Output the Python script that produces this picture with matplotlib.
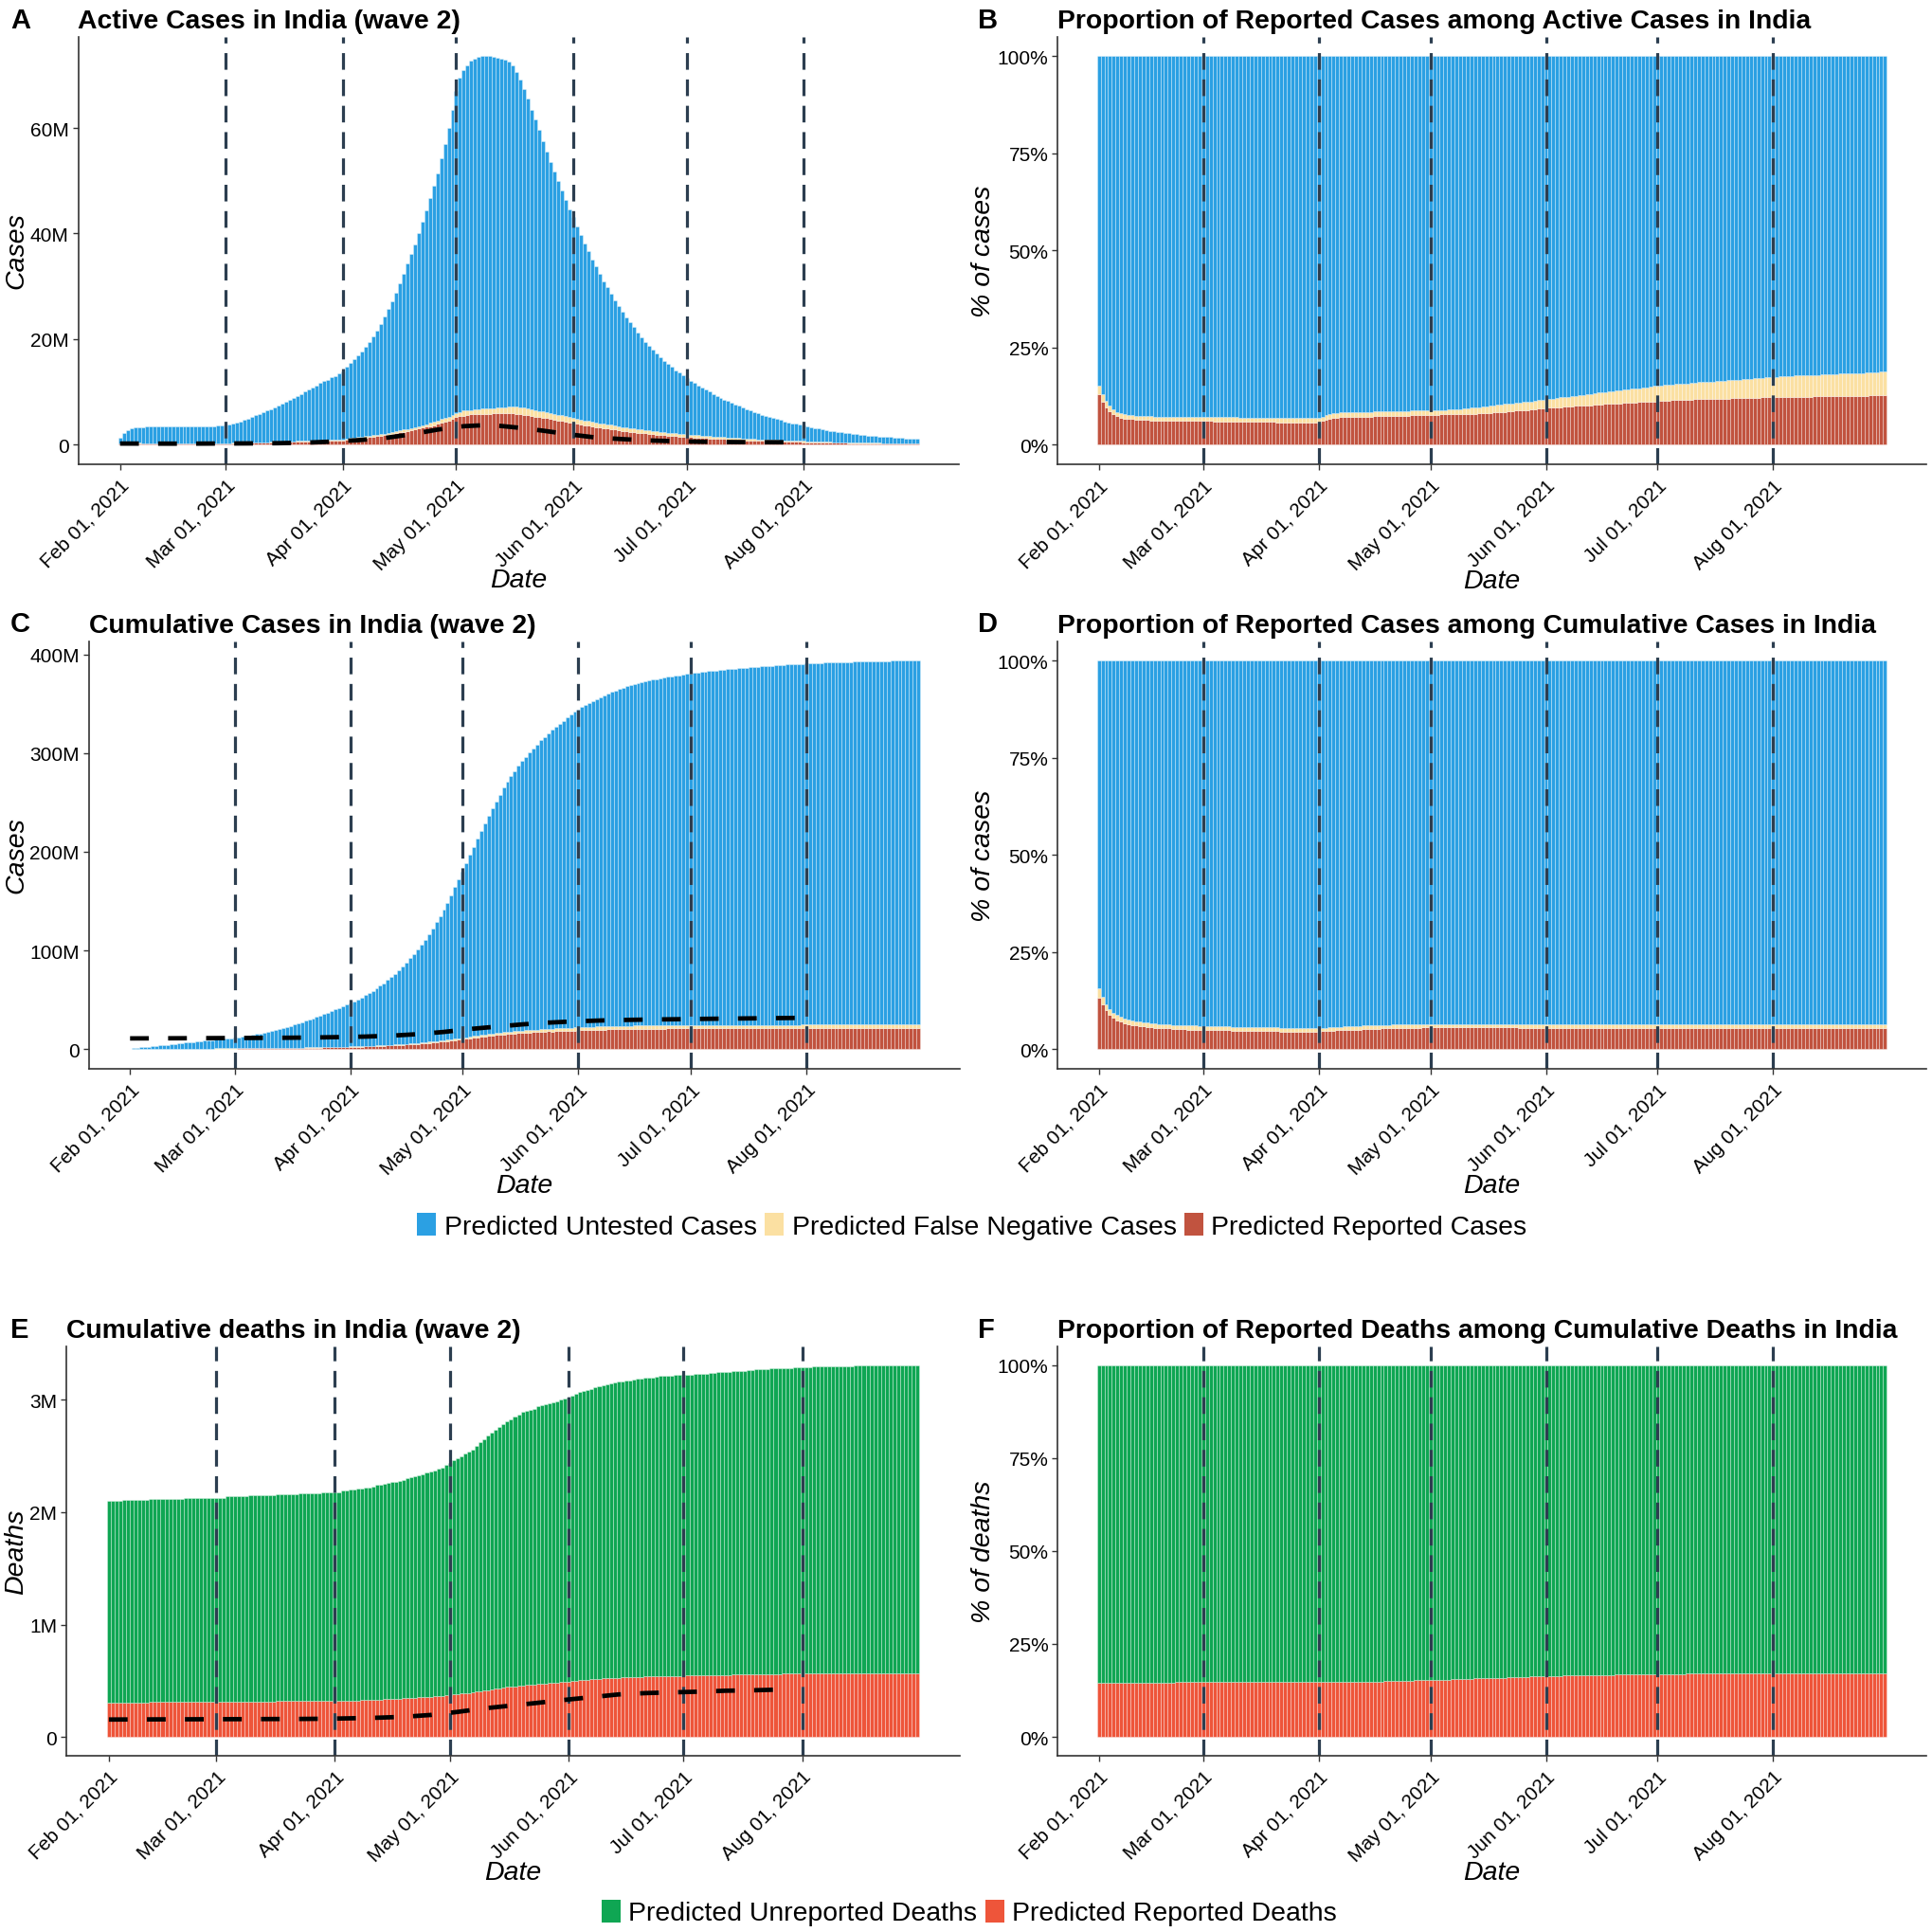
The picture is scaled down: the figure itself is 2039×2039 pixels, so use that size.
import numpy as np
import matplotlib
matplotlib.use("Agg")
import matplotlib.pyplot as plt
import matplotlib.dates as mdates
from matplotlib.patches import Patch
from matplotlib.ticker import FuncFormatter

plt.rcParams["font.family"] = ["Liberation Sans", "DejaVu Sans"]

# daily values, Feb 01 2021 .. Aug 31 2021, one row per month
active_total = [  # millions
    1.2, 2.1, 2.7, 3.0, 3.2, 3.3, 3.3, 3.4, 3.4, 3.4, 3.5, 3.5, 3.5, 3.5, 3.5, 3.5, 3.5, 3.5, 3.5, 3.5,
    3.5, 3.5, 3.5, 3.5, 3.5, 3.5, 3.6, 3.6,
    3.6, 3.7, 3.9, 4.1, 4.3, 4.6, 4.9, 5.2, 5.5, 5.8, 6.1, 6.4, 6.7, 7.0, 7.4, 7.7, 8.1, 8.4, 8.8, 9.2,
    9.6, 10.0, 10.4, 10.8, 11.2, 11.6, 12.0, 12.3, 12.7, 13.0, 13.4,
    13.8, 14.7, 15.4, 16.2, 16.9, 17.7, 18.6, 19.5, 20.5, 21.6, 22.9, 24.3, 25.7, 27.2, 28.8, 30.5, 32.4,
    34.4, 36.2, 38.0, 40.1, 42.2, 44.4, 46.7, 49.1, 51.5, 54.2, 57.0, 60.0, 63.5,
    67.0, 69.5, 71.0, 71.9, 72.8, 73.2, 73.6, 73.7, 73.7, 73.7, 73.5, 73.4, 73.2, 72.9, 72.6, 71.9, 70.7,
    69.2, 67.4, 65.6, 63.5, 61.6, 59.6, 57.5, 55.6, 53.6, 51.8, 49.9, 48.1, 46.4, 44.6,
    43.1, 41.4, 39.8, 38.1, 36.6, 35.1, 33.8, 32.3, 31.0, 29.8, 28.6, 27.4, 26.2, 25.1, 24.1, 23.1, 22.2,
    21.3, 20.4, 19.5, 18.7, 18.0, 17.2, 16.5, 15.9, 15.3, 14.7, 14.1, 13.6, 13.1,
    12.6, 12.1, 11.6, 11.2, 10.8, 10.4, 10.0, 9.6, 9.2, 8.8, 8.5, 8.2, 7.9, 7.6, 7.3, 7.0, 6.7, 6.4, 6.1,
    5.9, 5.6, 5.4, 5.2, 5.0, 4.8, 4.6, 4.4, 4.2, 4.0, 3.9, 3.7,
    3.6, 3.4, 3.3, 3.1, 3.0, 2.9, 2.7, 2.6, 2.5, 2.4, 2.3, 2.2, 2.1, 2.0, 1.9, 1.8, 1.75, 1.7, 1.6,
    1.55, 1.5, 1.45, 1.4, 1.35, 1.3, 1.25, 1.2, 1.15, 1.1, 1.05, 1.0,
]
active_reported_pct = [
    13.0, 11.1, 9.6, 8.7, 7.9, 7.4, 7.0, 6.8, 6.7, 6.6, 6.5, 6.5, 6.4, 6.4, 6.3, 6.3, 6.3, 6.3, 6.3, 6.2,
    6.2, 6.2, 6.2, 6.2, 6.1, 6.1, 6.1, 6.1,
    6.1, 6.1, 6.1, 6.0, 6.0, 6.0, 6.0, 6.0, 6.0, 6.0, 6.0, 5.9, 5.9, 5.9, 5.9, 5.9, 5.9, 5.9, 5.9, 5.9,
    5.8, 5.8, 5.8, 5.8, 5.8, 5.8, 5.8, 5.8, 5.8, 5.8, 5.8,
    5.8, 6.2, 6.5, 6.7, 6.9, 7.0, 7.1, 7.1, 7.2, 7.2, 7.2, 7.3, 7.3, 7.3, 7.3, 7.4, 7.4, 7.4, 7.4, 7.4,
    7.5, 7.5, 7.5, 7.5, 7.5, 7.6, 7.6, 7.6, 7.6, 7.7,
    7.7, 7.7, 7.7, 7.8, 7.8, 7.8, 7.8, 7.9, 7.9, 7.9, 8.0, 8.0, 8.0, 8.1, 8.1, 8.2, 8.2, 8.3, 8.3, 8.4,
    8.5, 8.6, 8.7, 8.8, 8.9, 9.0, 9.0, 9.1, 9.2, 9.3, 9.3,
    9.4, 9.5, 9.5, 9.6, 9.7, 9.8, 9.8, 9.9, 10.0, 10.0, 10.1, 10.2, 10.2, 10.3, 10.4, 10.4, 10.5, 10.5,
    10.6, 10.7, 10.7, 10.8, 10.8, 10.9, 10.9, 11.0, 11.0, 11.1, 11.1, 11.2,
    11.3, 11.3, 11.4, 11.4, 11.5, 11.5, 11.5, 11.6, 11.6, 11.6, 11.7, 11.7, 11.7, 11.8, 11.8, 11.8, 11.9,
    11.9, 11.9, 11.9, 12.0, 12.0, 12.0, 12.0, 12.1, 12.1, 12.1, 12.1, 12.2, 12.2, 12.2,
    12.3, 12.3, 12.3, 12.3, 12.3, 12.4, 12.4, 12.4, 12.4, 12.4, 12.4, 12.5, 12.5, 12.5, 12.5, 12.5, 12.5,
    12.5, 12.6, 12.6, 12.6, 12.6, 12.6, 12.6, 12.6, 12.6, 12.7, 12.7, 12.7, 12.7, 12.7,
]
active_tested_pct = [  # reported + false negative
    15.2, 13.0, 11.3, 10.1, 9.1, 8.5, 8.1, 7.9, 7.7, 7.6, 7.5, 7.5, 7.4, 7.4, 7.4, 7.3, 7.3, 7.3, 7.3, 7.3,
    7.3, 7.2, 7.2, 7.2, 7.2, 7.2, 7.2, 7.2,
    7.2, 7.2, 7.2, 7.1, 7.1, 7.1, 7.1, 7.1, 7.1, 7.1, 7.0, 7.0, 7.0, 7.0, 7.0, 7.0, 7.0, 7.0, 6.9, 6.9,
    6.9, 6.9, 6.9, 6.9, 6.9, 6.9, 6.9, 6.9, 6.9, 6.9, 6.9,
    6.9, 7.3, 7.7, 7.9, 8.1, 8.2, 8.3, 8.3, 8.4, 8.4, 8.4, 8.5, 8.5, 8.5, 8.5, 8.6, 8.6, 8.6, 8.6, 8.6,
    8.7, 8.7, 8.7, 8.7, 8.7, 8.8, 8.8, 8.8, 8.8, 8.9,
    8.9, 8.9, 9.0, 9.0, 9.0, 9.1, 9.1, 9.2, 9.2, 9.3, 9.4, 9.5, 9.6, 9.7, 9.8, 9.9, 10.1, 10.2, 10.3,
    10.4, 10.5, 10.6, 10.7, 10.8, 10.9, 11.0, 11.1, 11.2, 11.4, 11.5, 11.6,
    11.7, 11.8, 11.9, 12.0, 12.2, 12.3, 12.4, 12.5, 12.6, 12.8, 12.9, 13.0, 13.1, 13.2, 13.4, 13.5, 13.6,
    13.7, 13.8, 13.9, 14.1, 14.2, 14.3, 14.4, 14.5, 14.6, 14.7, 14.8, 14.9, 15.1,
    15.2, 15.3, 15.4, 15.5, 15.5, 15.6, 15.7, 15.8, 15.8, 15.9, 16.0, 16.1, 16.1, 16.2, 16.3, 16.3, 16.4,
    16.5, 16.5, 16.6, 16.7, 16.7, 16.8, 16.9, 16.9, 17.0, 17.1, 17.1, 17.2, 17.3, 17.4,
    17.5, 17.5, 17.6, 17.6, 17.7, 17.7, 17.8, 17.8, 17.9, 17.9, 18.0, 18.0, 18.0, 18.1, 18.1, 18.2, 18.2,
    18.2, 18.3, 18.3, 18.4, 18.4, 18.4, 18.5, 18.5, 18.6, 18.6, 18.7, 18.7, 18.8, 18.9,
]

cum_total = [  # millions
    0.4, 0.8, 1.2, 1.6, 2.0, 2.4, 2.8, 3.2, 3.6, 4.0, 4.4, 4.8, 5.2, 5.6, 6.0, 6.4, 6.8, 7.2, 7.6, 8.0,
    8.4, 8.8, 9.2, 9.6, 10.0, 10.3, 10.6, 11.0,
    11.4, 11.9, 12.4, 13.0, 13.6, 14.3, 15.0, 15.8, 16.6, 17.5, 18.4, 19.4, 20.4, 21.4, 22.5, 23.6, 24.8,
    26.0, 27.2, 28.5, 29.8, 31.1, 32.5, 33.9, 35.4, 36.9, 38.4, 40.0, 41.6, 43.2, 44.9,
    46.6, 48.4, 50.3, 52.3, 54.4, 56.6, 58.9, 61.4, 64.0, 66.8, 69.8, 73.0, 76.4, 80.0, 83.8, 87.8, 92.0,
    96.4, 101.0, 105.8, 110.8, 116.0, 122.0, 128.5, 135.0, 141.7, 148.5, 156.0, 164.0, 172.0,
    180.0, 188.5, 197.0, 205.0, 213.0, 221.0, 229.0, 236.5, 244.0, 251.0, 258.0, 265.0, 270.8, 276.4,
    281.8, 287.0, 292.0, 296.5, 300.8, 305.0, 309.0, 313.0, 316.5, 320.0, 323.5, 327.0, 330.0, 333.0,
    336.0, 339.0, 342.0,
    344.5, 346.8, 349.0, 351.1, 353.1, 355.0, 356.9, 358.7, 360.5, 362.2, 363.8, 365.2, 366.5, 367.7,
    368.8, 369.9, 370.9, 371.9, 372.8, 373.7, 374.5, 375.3, 376.0, 376.7, 377.4, 378.0, 378.6, 379.2,
    379.8, 380.3,
    380.8, 381.3, 381.8, 382.3, 382.8, 383.2, 383.6, 384.0, 384.4, 384.8, 385.2, 385.5, 385.8, 386.1,
    386.4, 386.7, 387.0, 387.3, 387.6, 387.9, 388.2, 388.5, 388.8, 389.1, 389.4, 389.6, 389.8, 390.0,
    390.2, 390.4, 390.6,
    390.8, 391.0, 391.2, 391.4, 391.6, 391.8, 392.0, 392.1, 392.2, 392.3, 392.4, 392.5, 392.6, 392.7,
    392.8, 392.9, 393.0, 393.1, 393.2, 393.3, 393.4, 393.5, 393.6, 393.7, 393.8, 393.8, 393.9, 393.9,
    394.0, 394.0, 394.1,
]
cum_reported_pct = [
    13.3, 11.5, 9.9, 8.8, 8.0, 7.4, 7.0, 6.6, 6.4, 6.2, 6.1, 5.9, 5.8, 5.7, 5.6, 5.5, 5.4, 5.4, 5.3, 5.3,
    5.2, 5.2, 5.1, 5.1, 5.0, 5.0, 5.0, 4.9,
    4.9, 4.9, 4.9, 4.8, 4.8, 4.8, 4.8, 4.8, 4.7, 4.7, 4.7, 4.7, 4.7, 4.7, 4.6, 4.6, 4.6, 4.6, 4.6, 4.6,
    4.6, 4.5, 4.5, 4.5, 4.5, 4.5, 4.5, 4.5, 4.5, 4.5, 4.5,
    4.5, 4.6, 4.6, 4.7, 4.7, 4.8, 4.8, 4.9, 4.9, 5.0, 5.0, 5.0, 5.1, 5.1, 5.2, 5.2, 5.2, 5.3, 5.3, 5.3,
    5.4, 5.4, 5.4, 5.4, 5.5, 5.5, 5.5, 5.5, 5.6, 5.6,
    5.6, 5.6, 5.6, 5.6, 5.6, 5.6, 5.6, 5.6, 5.6, 5.6, 5.6, 5.6, 5.6, 5.6, 5.6, 5.6, 5.6, 5.6, 5.6, 5.6,
    5.6, 5.6, 5.6, 5.6, 5.5, 5.5, 5.5, 5.5, 5.5, 5.5, 5.5,
    5.5, 5.5, 5.5, 5.5, 5.5, 5.5, 5.5, 5.5, 5.5, 5.5, 5.5, 5.5, 5.5, 5.5, 5.5, 5.5, 5.5, 5.5, 5.5, 5.5,
    5.5, 5.5, 5.5, 5.5, 5.5, 5.5, 5.5, 5.5, 5.5, 5.5,
    5.5, 5.5, 5.5, 5.5, 5.5, 5.5, 5.5, 5.5, 5.5, 5.5, 5.4, 5.4, 5.4, 5.4, 5.4, 5.4, 5.4, 5.4, 5.4, 5.4,
    5.4, 5.4, 5.4, 5.4, 5.4, 5.4, 5.4, 5.4, 5.4, 5.4, 5.4,
    5.4, 5.4, 5.4, 5.4, 5.4, 5.4, 5.4, 5.4, 5.4, 5.4, 5.4, 5.4, 5.4, 5.4, 5.4, 5.4, 5.4, 5.4, 5.4, 5.4,
    5.4, 5.4, 5.4, 5.4, 5.4, 5.4, 5.4, 5.4, 5.4, 5.4, 5.4,
]
cum_tested_pct = [
    15.7, 13.4, 11.5, 10.2, 9.3, 8.7, 8.2, 7.9, 7.6, 7.4, 7.2, 7.0, 6.9, 6.8, 6.6, 6.5, 6.4, 6.4, 6.3, 6.3,
    6.2, 6.2, 6.1, 6.1, 6.0, 6.0, 6.0, 5.9,
    5.9, 5.9, 5.9, 5.8, 5.8, 5.8, 5.8, 5.8, 5.7, 5.7, 5.7, 5.7, 5.7, 5.7, 5.6, 5.6, 5.6, 5.6, 5.6, 5.6,
    5.6, 5.5, 5.5, 5.5, 5.5, 5.5, 5.5, 5.4, 5.4, 5.4, 5.4,
    5.4, 5.5, 5.5, 5.6, 5.6, 5.7, 5.7, 5.8, 5.8, 5.9, 5.9, 5.9, 6.0, 6.0, 6.1, 6.1, 6.1, 6.2, 6.2, 6.2,
    6.3, 6.3, 6.3, 6.3, 6.4, 6.4, 6.4, 6.4, 6.4, 6.4,
    6.4, 6.4, 6.4, 6.4, 6.4, 6.4, 6.4, 6.4, 6.4, 6.4, 6.4, 6.4, 6.4, 6.4, 6.4, 6.4, 6.4, 6.4, 6.4, 6.4,
    6.4, 6.4, 6.4, 6.4, 6.4, 6.4, 6.4, 6.4, 6.4, 6.4, 6.4,
    6.4, 6.4, 6.4, 6.4, 6.4, 6.4, 6.4, 6.4, 6.4, 6.4, 6.4, 6.4, 6.4, 6.4, 6.4, 6.4, 6.4, 6.4, 6.4, 6.4,
    6.4, 6.4, 6.4, 6.4, 6.4, 6.4, 6.4, 6.4, 6.4, 6.4,
    6.4, 6.4, 6.4, 6.4, 6.4, 6.3, 6.3, 6.3, 6.3, 6.3, 6.3, 6.3, 6.3, 6.3, 6.3, 6.3, 6.3, 6.3, 6.3, 6.3,
    6.3, 6.3, 6.3, 6.3, 6.3, 6.3, 6.3, 6.3, 6.3, 6.3, 6.3,
    6.3, 6.3, 6.3, 6.3, 6.3, 6.3, 6.3, 6.3, 6.3, 6.3, 6.3, 6.3, 6.3, 6.3, 6.3, 6.3, 6.3, 6.3, 6.3, 6.3,
    6.3, 6.3, 6.3, 6.3, 6.3, 6.3, 6.3, 6.3, 6.3, 6.3, 6.3,
]

deaths_total = [  # millions
    2.10, 2.10, 2.10, 2.10, 2.11, 2.11, 2.11, 2.11, 2.11, 2.11, 2.11, 2.12, 2.12, 2.12, 2.12, 2.12, 2.12,
    2.12, 2.12, 2.12, 2.13, 2.13, 2.13, 2.13, 2.13, 2.13, 2.13, 2.13,
    2.13, 2.13, 2.13, 2.14, 2.14, 2.14, 2.14, 2.14, 2.14, 2.15, 2.15, 2.15, 2.15, 2.15, 2.15, 2.15, 2.16,
    2.16, 2.16, 2.16, 2.16, 2.16, 2.17, 2.17, 2.17, 2.17, 2.17, 2.17, 2.18, 2.18, 2.18,
    2.18, 2.18, 2.19, 2.19, 2.20, 2.20, 2.21, 2.21, 2.22, 2.22, 2.23, 2.24, 2.24, 2.25, 2.26, 2.27, 2.27,
    2.28, 2.29, 2.30, 2.31, 2.32, 2.33, 2.34, 2.35, 2.36, 2.37, 2.39, 2.40, 2.42,
    2.44, 2.46, 2.48, 2.50, 2.52, 2.54, 2.56, 2.59, 2.62, 2.65, 2.68, 2.71, 2.73, 2.76, 2.78, 2.81, 2.83,
    2.85, 2.87, 2.89, 2.90, 2.91, 2.92, 2.94, 2.95, 2.96, 2.97, 2.98, 2.99, 3.00, 3.01,
    3.02, 3.04, 3.05, 3.07, 3.08, 3.09, 3.10, 3.11, 3.12, 3.13, 3.14, 3.15, 3.155, 3.16, 3.165, 3.17,
    3.175, 3.18, 3.185, 3.19, 3.195, 3.20, 3.20, 3.205, 3.21, 3.21, 3.215, 3.215, 3.22, 3.22,
    3.22, 3.225, 3.225, 3.23, 3.23, 3.235, 3.235, 3.24, 3.24, 3.245, 3.245, 3.25, 3.25, 3.255, 3.255,
    3.26, 3.26, 3.265, 3.265, 3.27, 3.27, 3.275, 3.275, 3.28, 3.28, 3.28, 3.285, 3.285, 3.285, 3.29, 3.29,
    3.29, 3.29, 3.29, 3.295, 3.295, 3.295, 3.295, 3.30, 3.30, 3.30, 3.30, 3.30, 3.30, 3.30, 3.305, 3.305,
    3.305, 3.305, 3.305, 3.305, 3.31, 3.31, 3.31, 3.31, 3.31, 3.31, 3.31, 3.31, 3.31, 3.31, 3.31,
]
deaths_reported_pct = [
    14.5, 14.5, 14.5, 14.5, 14.5, 14.5, 14.5, 14.5, 14.6, 14.6, 14.6, 14.6, 14.6, 14.6, 14.6, 14.6, 14.6,
    14.6, 14.6, 14.6, 14.6, 14.7, 14.7, 14.7, 14.7, 14.7, 14.7, 14.7,
    14.7, 14.7, 14.7, 14.7, 14.7, 14.7, 14.7, 14.7, 14.7, 14.7, 14.7, 14.7, 14.7, 14.7, 14.7, 14.7, 14.7,
    14.7, 14.7, 14.7, 14.7, 14.7, 14.7, 14.7, 14.7, 14.7, 14.7, 14.7, 14.7, 14.7, 14.7,
    14.7, 14.7, 14.7, 14.7, 14.7, 14.7, 14.7, 14.8, 14.8, 14.8, 14.8, 14.8, 14.8, 14.9, 14.9, 14.9, 14.9,
    14.9, 15.0, 15.0, 15.0, 15.0, 15.1, 15.1, 15.1, 15.1, 15.2, 15.2, 15.2, 15.2,
    15.3, 15.3, 15.3, 15.4, 15.4, 15.4, 15.5, 15.5, 15.5, 15.6, 15.6, 15.6, 15.7, 15.7, 15.7, 15.8, 15.8,
    15.8, 15.9, 15.9, 15.9, 16.0, 16.0, 16.0, 16.1, 16.1, 16.1, 16.2, 16.2, 16.2, 16.3,
    16.3, 16.4, 16.4, 16.4, 16.4, 16.5, 16.5, 16.5, 16.5, 16.6, 16.6, 16.6, 16.6, 16.6, 16.7, 16.7, 16.7,
    16.7, 16.7, 16.8, 16.8, 16.8, 16.8, 16.8, 16.8, 16.9, 16.9, 16.9, 16.9, 16.9,
    16.9, 16.9, 16.9, 16.9, 16.9, 16.9, 16.9, 16.9, 17.0, 17.0, 17.0, 17.0, 17.0, 17.0, 17.0, 17.0, 17.0,
    17.0, 17.0, 17.0, 17.0, 17.0, 17.0, 17.1, 17.1, 17.1, 17.1, 17.1, 17.1, 17.1, 17.1,
    17.1, 17.1, 17.1, 17.1, 17.1, 17.1, 17.1, 17.1, 17.1, 17.1, 17.1, 17.1, 17.1, 17.1, 17.1, 17.1, 17.1,
    17.1, 17.1, 17.1, 17.1, 17.1, 17.1, 17.1, 17.1, 17.1, 17.1, 17.1, 17.1, 17.1, 17.1,
]

# officially reported figures (black dashed line), weekly
active_line_dates = ["2021-02-01", "2021-02-08", "2021-02-15", "2021-02-22", "2021-03-01", "2021-03-08",
                     "2021-03-15", "2021-03-22", "2021-03-29", "2021-04-05", "2021-04-12", "2021-04-19",
                     "2021-04-26", "2021-05-03", "2021-05-10", "2021-05-17", "2021-05-24", "2021-05-31",
                     "2021-06-07", "2021-06-14", "2021-06-21", "2021-06-28", "2021-07-05", "2021-07-12",
                     "2021-07-19", "2021-07-26", "2021-07-28"]
active_line = [0.16, 0.15, 0.14, 0.15, 0.17, 0.19, 0.23, 0.33, 0.52, 0.80, 1.20, 1.90, 2.80, 3.45, 3.70,
               3.20, 2.60, 1.90, 1.30, 1.00, 0.75, 0.60, 0.50, 0.45, 0.42, 0.41, 0.41]
cum_line_dates = active_line_dates[:-1] + ["2021-07-30"]
cum_line = [10.76, 10.83, 10.92, 11.02, 11.13, 11.24, 11.41, 11.68, 12.07, 12.59, 13.53, 15.06, 17.31,
            20.28, 22.66, 24.97, 26.75, 28.05, 28.91, 29.51, 29.94, 30.23, 30.59, 30.87, 31.14, 31.40, 31.57]
deaths_line_dates = active_line_dates[:-1]
deaths_line = [0.1545, 0.1554, 0.1561, 0.1567, 0.1574, 0.1581, 0.1589, 0.1596, 0.1612, 0.1653, 0.1705,
               0.1789, 0.1952, 0.2223, 0.2541, 0.2786, 0.3034, 0.3295, 0.3536, 0.3778, 0.3896, 0.3964,
               0.4023, 0.4109, 0.4147, 0.4210]

month_starts = ["2021-02-01", "2021-03-01", "2021-04-01", "2021-05-01", "2021-06-01", "2021-07-01",
                "2021-08-01"]
month_labels = ["Feb 01, 2021", "Mar 01, 2021", "Apr 01, 2021", "May 01, 2021", "Jun 01, 2021",
                "Jul 01, 2021", "Aug 01, 2021"]

BLUE = "#2BA0E3"
CREAM = "#FBE0A2"
BRICK = "#C1533F"
GREEN = "#0FA653"
ORANGE = "#EE553A"
VLINE = "#2C3E50"
AXIS = "#333333"

W, H = 2039, 2040
fig = plt.figure(figsize=(W / 100, H / 100), dpi=100)

days = np.arange("2021-02-01", "2021-09-01", dtype="datetime64[D]")
xs = mdates.date2num(days)
x0 = mdates.date2num(np.datetime64("2021-02-01"))
ticks = mdates.date2num(np.array(month_starts, dtype="datetime64[D]"))


def to_num(dates):
    return mdates.date2num(np.array(dates, dtype="datetime64[D]"))


def add_panel(left, top, right, bottom):
    return fig.add_axes([left / W, 1 - bottom / H, (right - left) / W, (bottom - top) / H])


def stacked(ax, layers):
    base = np.zeros(len(xs))
    for vals, color in layers:
        vals = np.asarray(vals, dtype=float)
        ax.bar(xs, vals, width=1.0, bottom=base, color=color, edgecolor=(1, 1, 1, 0.45),
               linewidth=0.5, zorder=1)
        base = base + vals
    return base.max()


def style(ax, box, title, letter, ylabel, ymax, fmt, yticks):
    left, top, right, bottom = box
    ax.set_xlim(x0 - 11.1, x0 + 222.1)
    ax.set_ylim(-0.05 * ymax, 1.05 * ymax)
    for t in ticks[1:]:
        ax.axvline(t, color=VLINE, lw=2.3, linestyle=(0, (5.5, 3.2)), zorder=2)
    ax.set_xticks(ticks)
    ax.set_xticklabels(month_labels, rotation=45, ha="right", va="top", rotation_mode="anchor")
    ax.set_yticks(yticks)
    ax.yaxis.set_major_formatter(FuncFormatter(fmt))
    ax.tick_params(axis="both", length=4, width=1, color=AXIS, labelsize=15, labelcolor="black")
    ax.tick_params(axis="y", pad=3)
    ax.tick_params(axis="x", pad=5)
    for side in ["top", "right"]:
        ax.spines[side].set_visible(False)
    for side in ["left", "bottom"]:
        ax.spines[side].set_color(AXIS)
        ax.spines[side].set_linewidth(1.2)
    ax.set_title(title, loc="left", fontsize=20.4, fontweight="bold", pad=7)
    ax.set_ylabel(ylabel, fontsize=20.5, style="italic", va="center")
    xlab = 17.5 if left < 500 else 1038
    ax.yaxis.set_label_coords((xlab - left) / (right - left), 0.5)
    ax.set_xlabel("Date", fontsize=20.5, style="italic", va="center")
    ax.xaxis.set_label_coords(0.5, -123 / (bottom - top))
    fig.text((11 if left < 500 else 1032) / W, 1 - (top - 18) / H, letter, fontsize=21,
             fontweight="bold", va="center", ha="left")


def millions(v, pos):
    return "0" if abs(v) < 1e-9 else f"{v:.0f}M"


def percent(v, pos):
    return f"{v:.0f}%"


a_total = np.array(active_total)
a_rep = a_total * np.array(active_reported_pct) / 100
a_fn = a_total * (np.array(active_tested_pct) - np.array(active_reported_pct)) / 100
c_total = np.array(cum_total)
c_rep = c_total * np.array(cum_reported_pct) / 100
c_fn = c_total * (np.array(cum_tested_pct) - np.array(cum_reported_pct)) / 100
e_total = np.array(deaths_total)
e_rep = e_total * np.array(deaths_reported_pct) / 100

# A
box = (82.5, 39.5, 1012, 490.5)
ax = add_panel(*box)
top_a = stacked(ax, [(a_rep, BRICK), (a_fn, CREAM), (a_total - a_rep - a_fn, BLUE)])
ax.plot(to_num(active_line_dates), active_line, color="black", lw=3.4, linestyle=(0, (4.2, 4.3)), zorder=3)
style(ax, box, "Active Cases in India (wave 2)", "A", "Cases", top_a, millions, [0, 20, 40, 60])

# B
box = (1116, 39.5, 2033, 491)
ax = add_panel(*box)
rp = np.array(active_reported_pct)
tp = np.array(active_tested_pct)
stacked(ax, [(rp, BRICK), (tp - rp, CREAM), (100 - tp, BLUE)])
style(ax, box, "Proportion of Reported Cases among Active Cases in India", "B", "% of cases", 100,
      percent, [0, 25, 50, 75, 100])

# C
box = (93.5, 677.5, 1013, 1128.6)
ax = add_panel(*box)
top_c = stacked(ax, [(c_rep, BRICK), (c_fn, CREAM), (c_total - c_rep - c_fn, BLUE)])
ax.plot(to_num(cum_line_dates), cum_line, color="black", lw=3.4, linestyle=(0, (4.2, 4.3)), zorder=3)
style(ax, box, "Cumulative Cases in India (wave 2)", "C", "Cases", top_c, millions,
      [0, 100, 200, 300, 400])

# D
box = (1116, 677.5, 2033, 1128.6)
ax = add_panel(*box)
rp = np.array(cum_reported_pct)
tp = np.array(cum_tested_pct)
stacked(ax, [(rp, BRICK), (tp - rp, CREAM), (100 - tp, BLUE)])
style(ax, box, "Proportion of Reported Cases among Cumulative Cases in India", "D", "% of cases", 100,
      percent, [0, 25, 50, 75, 100])

# E
box = (70, 1422, 1013, 1853.7)
ax = add_panel(*box)
top_e = stacked(ax, [(e_rep, ORANGE), (e_total - e_rep, GREEN)])
ax.plot(to_num(deaths_line_dates), deaths_line, color="black", lw=3.4, linestyle=(0, (4.2, 4.3)), zorder=3)
style(ax, box, "Cumulative deaths in India (wave 2)", "E", "Deaths", top_e, millions, [0, 1, 2, 3])

# F
box = (1116, 1422, 2033, 1853.7)
ax = add_panel(*box)
rp = np.array(deaths_reported_pct)
stacked(ax, [(rp, ORANGE), (100 - rp, GREEN)])
style(ax, box, "Proportion of Reported Deaths among Cumulative Deaths in India", "F", "% of deaths", 100,
      percent, [0, 25, 50, 75, 100])

leg_kw = dict(loc="center", frameon=False, fontsize=20.4, handlelength=0.7, handleheight=0.95,
              handletextpad=0.3, columnspacing=0.3, borderaxespad=0, borderpad=0)
case_handles = [Patch(facecolor=BLUE), Patch(facecolor=CREAM), Patch(facecolor=BRICK)]
fig.legend(case_handles, ["Predicted Untested Cases", "Predicted False Negative Cases",
                          "Predicted Reported Cases"],
           bbox_to_anchor=(1026 / W, 1 - 1294.7 / H), ncol=3, **leg_kw)
death_handles = [Patch(facecolor=GREEN), Patch(facecolor=ORANGE)]
fig.legend(death_handles, ["Predicted Unreported Deaths", "Predicted Reported Deaths"],
           bbox_to_anchor=(1023 / W, 1 - 2019.5 / H), ncol=2, **leg_kw)

fig.savefig("out.png", dpi=100)
